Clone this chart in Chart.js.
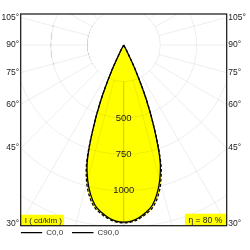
<!DOCTYPE html>
<html><head><meta charset="utf-8">
<script src="https://cdn.jsdelivr.net/npm/chart.js@4/dist/chart.umd.min.js"></script>
<style>html,body{margin:0;padding:0;background:#fff}#wrap{width:250px;height:250px;position:relative}</style>
</head><body><div id="wrap"><canvas id="c"></canvas></div>
<script>
// ---- data (cd/klm vs angle from nadir, degrees) ----
const angles    = [0, 2.5, 5, 7.5, 10, 12.5, 15, 17.5, 20, 22.5, 25, 27.5, 30];
const c0Values  = [1215, 1210, 1190, 1160, 1120, 1050, 957, 830, 620, 410, 200, 50, 0];
const c90Values = [1220, 1215, 1198, 1170, 1135, 1072, 980, 845, 622, 410, 200, 50, 0];
const seriesNames = ['C0,0', 'C90,0'];
const circleValues = [250, 500, 750, 1000, 1250, 1500];
const circleLabels = [500, 750, 1000];
const radialAngles = [-165,-150,-135,-120,-105,-90,-75,-60,-45,-30,-15,0,15,30,45,60,75,90,105,120,135,150,165,180];
const tickAngles = [105, 90, 75, 60, 45, 30];
const unitLabel = 'I ( cd/klm )';
const efficiencyLabel = 'η = 80 %';

const XMAX = 707, YMIN = -1240, YMAX = 213;
const rad = d => d * Math.PI / 180;
const toXY = (a, r) => ({x: r * Math.sin(rad(a)), y: -r * Math.cos(rad(a))});
function curve(vals) {
  const pts = [];
  for (let i = angles.length - 1; i >= 0; i--) pts.push(toXY(-angles[i], vals[i]));
  for (let i = 1; i < angles.length; i++) pts.push(toXY(angles[i], vals[i]));
  return pts;
}
const gridColor = 'rgba(0,0,0,0.07)';
const datasets = [
  {label: seriesNames[0], data: curve(c0Values), borderColor: '#000', borderWidth: 1.3,
   backgroundColor: '#ffff00', fill: 'shape', tension: 0.35, pointRadius: 0, showLine: true},
  {label: seriesNames[1], data: curve(c90Values), borderColor: '#000', borderWidth: 1.3, borderDash: [3, 2],
   backgroundColor: '#ffff00', fill: 'shape', tension: 0.35, pointRadius: 0, showLine: true}
];
circleValues.forEach(r => {
  const pts = [];
  for (let a = 0; a <= 360; a += 2) pts.push(toXY(a, r));
  datasets.push({label: 'grid', data: pts, borderColor: gridColor, borderWidth: 1, pointRadius: 0, showLine: true, fill: false, tension: 0});
});
radialAngles.forEach(a => {
  datasets.push({label: 'grid', data: [toXY(a, circleValues[0]), toXY(a, 3000)], borderColor: gridColor, borderWidth: 1, pointRadius: 0, showLine: true, fill: false, tension: 0});
});

const FONT = 'Liberation Sans, Arial, sans-serif';
const tickValues = tickAngles.map(a => -XMAX / Math.tan(rad(a)));

const overlay = {
  id: 'overlay',
  afterDatasetsDraw(chart) {
    const {ctx, chartArea: ca, scales: {x, y}} = chart;
    ctx.save();
    ctx.fillStyle = '#222';
    ctx.font = '9.5px ' + FONT;
    ctx.textAlign = 'center';
    ctx.textBaseline = 'middle';
    circleLabels.forEach(v => ctx.fillText(String(v), x.getPixelForValue(0), y.getPixelForValue(-v)));
    // unit box
    ctx.font = '8px ' + FONT;
    let tw = ctx.measureText(unitLabel).width;
    ctx.fillStyle = '#ffff00';
    ctx.fillRect(ca.left, ca.bottom - 11, tw + 6, 11);
    ctx.fillStyle = '#222';
    ctx.textAlign = 'left';
    ctx.fillText(unitLabel, ca.left + 4, ca.bottom - 5);
    // efficiency box
    ctx.font = '8.5px ' + FONT;
    tw = ctx.measureText(efficiencyLabel).width;
    ctx.fillStyle = '#ffff00';
    ctx.fillRect(ca.right - tw - 8, ca.bottom - 12, tw + 8, 12);
    ctx.fillStyle = '#222';
    ctx.fillText(efficiencyLabel, ca.right - tw - 4.5, ca.bottom - 5.5);
    // frame
    ctx.strokeStyle = '#111';
    ctx.lineWidth = 1.2;
    ctx.strokeRect(ca.left, ca.top, ca.right - ca.left, ca.bottom - ca.top);
    ctx.restore();
  }
};

const yAxis = (pos, w) => ({
  type: 'linear', position: pos, min: YMIN, max: YMAX,
  grid: {display: false, drawTicks: false, tickLength: 0}, border: {display: false},
  afterBuildTicks: s => { s.ticks = tickValues.map(v => ({value: v})); },
  afterFit: s => { s.width = w; },
  ticks: {autoSkip: false, padding: 1.5, color: '#222', font: {size: 8.5, family: FONT},
          callback: (v, i) => tickAngles[i] + '°'}
});

new Chart(document.getElementById('c'), {
  type: 'scatter',
  data: {datasets},
  options: {
    responsive: true, maintainAspectRatio: false, animation: false,
    devicePixelRatio: 1,
    layout: {padding: {top: 14, bottom: 3.3, left: 0, right: 0}},
    scales: {
      x: {type: 'linear', min: -XMAX, max: XMAX, grid: {display: false, drawTicks: false}, border: {display: false},
          ticks: {display: false}, afterFit: s => { s.height = 3; }},
      y: yAxis('left', 20.7),
      y2: yAxis('right', 23.3)
    },
    plugins: {
      filler: {drawTime: 'beforeDatasetsDraw'},
      tooltip: {enabled: false},
      legend: {
        display: true, position: 'bottom', align: 'start', fullSize: false,
        labels: {
          usePointStyle: true, pointStyle: 'line', pointStyleWidth: 21.5, padding: 0,
          color: '#333', font: {size: 8, family: FONT},
          filter: item => item.datasetIndex < 2,
          generateLabels: chart => Chart.defaults.plugins.legend.labels.generateLabels(chart)
            .map(l => { if (l.datasetIndex === 0) l.text = l.text + '    '; return l; })
        }
      }
    }
  },
  plugins: [overlay]
});
</script></body></html>
